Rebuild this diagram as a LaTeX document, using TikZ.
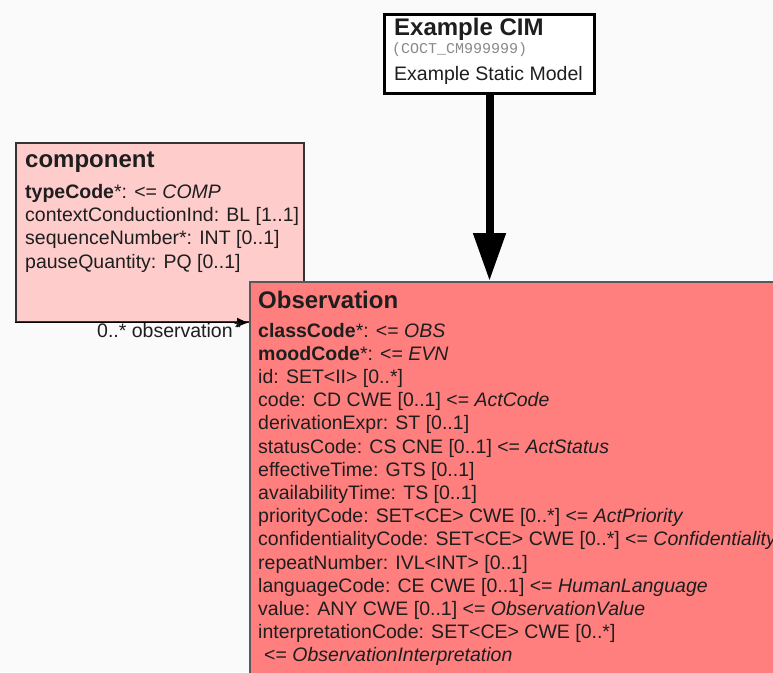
\documentclass[tikz,border=0pt]{standalone}
\usepackage{fontspec}
\setmainfont{Liberation Sans}
\newfontfamily\monofont{Liberation Mono}
\usetikzlibrary{arrows.meta}
\definecolor{bgc}{HTML}{FAFAFA}
\definecolor{obsfill}{HTML}{FF7F7F}
\definecolor{compfill}{HTML}{FFCCCC}
\definecolor{txt}{HTML}{1E1E1E}
\definecolor{codegray}{HTML}{8A8A8A}
\begin{document}
\begin{tikzpicture}[x=1pt,y=-1pt,
  body/.style={font=\fontsize{19.5}{23}\selectfont, text=txt, inner sep=0pt, anchor=base west},
  boxtitle/.style={font=\fontsize{24}{28}\selectfont\bfseries, text=txt, inner sep=0pt, anchor=base west},
  classbox/.style={anchor=north west, inner sep=0pt, rectangle}
]
\useasboundingbox (0,0) rectangle (773,672);
\fill[bgc] (0,0) rectangle (773,672);
\begin{scope}
\clip (0,0) rectangle (773,672);

% component box
\node[classbox, draw=black!80, fill=compfill, line width=1.5pt,
      minimum width=288pt, minimum height=179pt] (comp) at (15,142) {};
\node[boxtitle] (ctitle) at (25,167) {component};
\node[body] (c1) at (25,198) {\textbf{typeCode}*: <= \textit{COMP}};
\node[body] (c2) at (25,221.3) {contextConductionInd: BL [1..1]};
\node[body] (c3) at (25,244.6) {sequenceNumber*: INT [0..1]};
\node[body] (c4) at (25,268) {pauseQuantity: PQ [0..1]};

% Observation box
\node[classbox, draw=black!65, fill=obsfill, line width=2pt,
      minimum width=640pt, minimum height=460pt] (obs) at (249,281) {};
\node[boxtitle] (otitle) at (258,308) {Observation};
\foreach \t [count=\i] in {
  {\textbf{classCode}*: <= \textit{OBS}},
  {\textbf{moodCode}*: <= \textit{EVN}},
  {id: SET<II> [0..*]},
  {code: CD CWE [0..1] <= \textit{ActCode}},
  {derivationExpr: ST [0..1]},
  {statusCode: CS CNE [0..1] <= \textit{ActStatus}},
  {effectiveTime: GTS [0..1]},
  {availabilityTime: TS [0..1]},
  {priorityCode: SET<CE> CWE [0..*] <= \textit{ActPriority}},
  {confidentialityCode: SET<CE> CWE [0..*] <= \textit{Confidentiality}},
  {repeatNumber: IVL<INT> [0..1]},
  {languageCode: CE CWE [0..1] <= \textit{HumanLanguage}},
  {value: ANY CWE [0..1] <= \textit{ObservationValue}},
  {interpretationCode: SET<CE> CWE [0..*]}
}{
  \node[body] (o\i) at (258,{337+(\i-1)*23.2}) {\t};
}
\node[body] (o15) at (264,{337+14*23.2}) {<= \textit{ObservationInterpretation}};

% association component -> Observation
\coordinate (assocEnd) at (comp.south west -| obs.west);
\draw[black, line width=1.5pt, -{Latex[length=12pt,width=10pt]}] (comp.south west) -- (assocEnd);
\node[body] (alabel) at (97,337) {0..* observation};
\node[body] (astar) at (234,334) {*};

% Example CIM box
\node[classbox, draw=black, fill=white, line width=3pt,
      minimum width=210pt, minimum height=79pt] (cim) at (383,13) {};
\node[boxtitle] (cimtitle) at (394,35) {Example CIM};
\node[inner sep=0pt, anchor=base west, font=\monofont\fontsize{15}{18}\selectfont, text=codegray] (cimcode) at (392,53) {(COCT\_CM999999)};
\node[body] (cimname) at (394,80) {Example Static Model};

\draw[black, line width=8pt, -{Triangle[length=48pt,width=31pt]}] (cim.south) -- (cim.south |- obs.north);
\end{scope}
\end{tikzpicture}
\end{document}
